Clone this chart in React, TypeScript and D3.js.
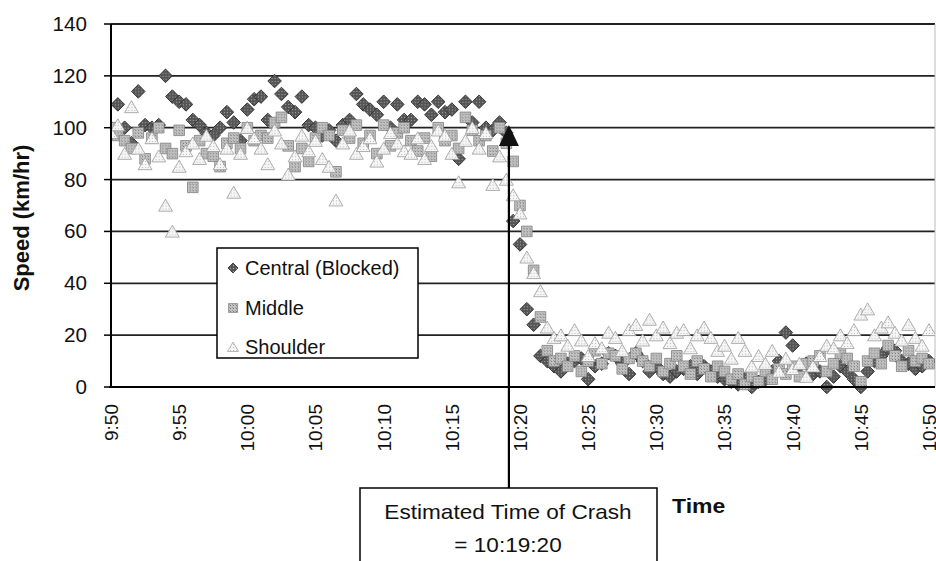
import React from "react";
import * as d3 from "d3";

// Sample times: minutes after 9:50, every 30 s
const sampleMinutes: number[] = d3.range(0, 60.5, 0.5);

const central: number[] = [
  100, 109, 100, 94, 114, 101, 100, 101, 120, 112, 110, 109, 103, 101, 98, 97, 100, 106, 102, 95,
  107, 111, 112, 103, 118, 113, 108, 106, 112, 101, 100, 97, 99, 95, 101, 103, 113, 109, 107, 105,
  110, 100, 109, 103, 103, 110, 109, 105, 110, 106, 107, 88, 110, 102, 110, 100, 99, 102, 98, 64,
  55, 30, 24, 12, 10, 8, 6, 9, 10, 11, 3, 8, 9, 13, 12, 9, 5, 13, 10, 6,
  8, 5, 4, 6, 7, 8, 5, 8, 6, 4, 3, 2, 1, 3, 0, 2, 3, 6, 10, 21,
  16, 8, 9, 5, 6, 0, 4, 8, 6, 3, 0, 6, 10, 12, 15, 14, 10, 9, 7, 8,
  10,
];

const middle: number[] = [
  100, 97, 95, 92, 98, 88, 96, 100, 92, 90, 99, 93, 77, 95, 90, 89, 85, 94, 96, 92,
  100, 95, 97, 96, 102, 104, 93, 85, 92, 87, 96, 100, 97, 83, 99, 96, 101, 94, 97, 90,
  101, 93, 98, 100, 95, 91, 96, 89, 100, 95, 97, 92, 104, 99, 95, 97, 91, 100, 94, 87,
  70, 60, 45, 27, 14, 10, 11, 8, 12, 6, 10, 14, 9, 13, 12, 7, 11, 13, 10, 8,
  11, 6, 9, 12, 8, 5, 10, 7, 4, 8, 6, 3, 5, 1, 4, 2, 6, 3, 7, 5,
  8, 4, 9, 10, 12, 6, 9, 13, 11, 8, 2, 10, 13, 9, 16, 12, 8, 14, 10, 11,
  9,
];

const shoulder: number[] = [
  98, 101, 90, 108, 92, 86, 96, 89, 70, 60, 85, 91, 94, 88, 97, 93, 86, 92, 75, 90,
  100, 96, 92, 86, 99, 94, 82, 89, 97, 91, 95, 88, 85, 72, 94, 99, 90, 93, 96, 87,
  92, 98, 94, 91, 90, 96, 88, 93, 99, 97, 90, 79, 95, 100, 92, 98, 78, 89, 80, 74,
  67, 50, 44, 37, 23, 19, 20, 16, 22, 18, 12, 17, 15, 21, 19, 14, 22, 24, 18, 26,
  20, 23, 17, 21, 22, 15, 20, 23, 19, 14, 16, 11, 19, 14, 8, 12, 9, 14, 6, 11,
  7, 9, 4, 8, 12, 16, 15, 20, 17, 22, 28, 30, 20, 23, 25, 21, 18, 24, 19, 16,
  22,
];

const xTickLabels: string[] = [
  "9:50", "9:55", "10:00", "10:05", "10:10", "10:15", "10:20",
  "10:25", "10:30", "10:35", "10:40", "10:45", "10:50",
];
const yTicks: number[] = [0, 20, 40, 60, 80, 100, 120, 140];
const crashMinute = 29 + 20 / 60; // 10:19:20

const FONT = "'Liberation Sans', Arial, sans-serif";

const diamondPath = (r: number) => `M0,${-r}L${r},0L0,${r}L${-r},0Z`;
const squarePath = (r: number) => `M${-r},${-r}H${r}V${r}H${-r}Z`;
const trianglePath = (r: number) => `M0,${-r}L${r * 1.1},${r * 0.9}L${-r * 1.1},${r * 0.9}Z`;

export default function App() {
  const W = 936;
  const H = 561;
  const plotLeft = 111;
  const plotRight = 935;
  const x = d3.scaleLinear().domain([0, 60]).range([111, 929]);
  const y = d3.scaleLinear().domain([0, 140]).range([387, 24]);

  const diamond = diamondPath(6.8);
  const square = squarePath(5.3);
  const triangle = trianglePath(6.3);

  const cx = x(crashMinute) - 2;

  return (
    <svg
      width={W}
      height={H}
      style={{ position: "absolute", left: 0, top: 0, background: "#fff" }}
      fontFamily={FONT}
    >
      <defs>
        <pattern id="patMid" width="3" height="3" patternUnits="userSpaceOnUse">
          <rect width="3" height="3" fill="#c4c4c4" />
          <rect width="1" height="1" fill="#6e6e6e" />
          <rect x="2" y="2" width="1" height="1" fill="#999" />
        </pattern>
        <pattern id="patCen" width="3" height="3" patternUnits="userSpaceOnUse">
          <rect width="3" height="3" fill="#555" />
          <rect width="1" height="1" fill="#aaa" />
        </pattern>
        <pattern id="patSh" width="3" height="3" patternUnits="userSpaceOnUse">
          <rect width="3" height="3" fill="#f6f6f6" />
          <rect width="1" height="1" fill="#bbb" />
        </pattern>
        <clipPath id="plotClip">
          <rect x={plotLeft} y={18} width={plotRight - plotLeft} height={376} />
        </clipPath>
      </defs>

      {/* gridlines */}
      {yTicks.filter((t) => t > 0).map((t) => (
        <line key={"g" + t} x1={plotLeft} x2={plotRight} y1={y(t)} y2={y(t)} stroke="#222" strokeWidth={1.8} />
      ))}
      <line x1={plotRight} x2={plotRight} y1={y(140)} y2={y(0)} stroke="#bbb" strokeWidth={1} />

      {/* data */}
      <g clipPath="url(#plotClip)">
        {central.map((v, i) => (
          <path key={"c" + i} d={diamond} transform={`translate(${x(sampleMinutes[i])},${y(v)})`}
            fill="url(#patCen)" stroke="#2a2a2a" strokeWidth={0.9} />
        ))}
        {middle.map((v, i) => (
          <path key={"m" + i} d={square} transform={`translate(${x(sampleMinutes[i])},${y(v)})`}
            fill="url(#patMid)" stroke="#808080" strokeWidth={0.8} />
        ))}
        {shoulder.map((v, i) => (
          <path key={"s" + i} d={triangle} transform={`translate(${x(sampleMinutes[i])},${y(v)})`}
            fill="url(#patSh)" stroke="#9a9a9a" strokeWidth={0.8} />
        ))}
      </g>

      {/* axes */}
      <line x1={plotLeft} x2={plotLeft} y1={y(140)} y2={y(0) + 1} stroke="#000" strokeWidth={2} />
      <line x1={plotLeft - 2} x2={plotRight} y1={y(0)} y2={y(0)} stroke="#000" strokeWidth={2} />
      {yTicks.map((t) => (
        <g key={"yt" + t}>
          <line x1={plotLeft - 7} x2={plotLeft} y1={y(t)} y2={y(t)} stroke="#000" strokeWidth={1.5} />
          <text transform={`translate(87,${y(t)}) scale(1.06,1)`} dy="0.36em" textAnchor="end"
            fontSize={19.5} fill="#111">{t}</text>
        </g>
      ))}
      {xTickLabels.map((lab, i) => (
        <text key={"xt" + i} transform={`translate(${x(i * 5)},404) rotate(-90)`} textAnchor="end"
          dy="0.36em" fontSize={19} fill="#111">{lab}</text>
      ))}

      <text transform="translate(21,218) rotate(-90)" textAnchor="middle" dy="0.36em"
        fontSize={22} fontWeight="bold" fill="#111">Speed (km/hr)</text>
      <text transform="translate(672,513) scale(1.15,1)" fontSize={20} fontWeight="bold" fill="#111">Time</text>

      {/* crash annotation */}
      <line x1={cx} x2={cx} y1={140} y2={488} stroke="#000" strokeWidth={2.2} />
      <path d={`M${cx},125 L${cx + 10},146 L${cx - 10},146 Z`} fill="#111" />
      <rect x={360} y={488} width={297} height={90} fill="#fff" stroke="#000" strokeWidth={1.5} />
      <text transform="translate(508,519) scale(1.13,1)" textAnchor="middle" fontSize={20} fill="#111">Estimated Time of Crash</text>
      <text transform="translate(508,552) scale(1.13,1)" textAnchor="middle" fontSize={20} fill="#111">= 10:19:20</text>

      {/* legend */}
      <rect x={217} y={248} width={201} height={110} fill="#fff" stroke="#000" strokeWidth={1.5} />
      <path d={diamondPath(5)} transform="translate(233,268)"
        fill="url(#patCen)" stroke="#2a2a2a" strokeWidth={0.8} />
      <text x={245} y={268} dy="0.36em" fontSize={20} fill="#111">Central (Blocked)</text>
      <path d={squarePath(4.5)} transform="translate(233,308)"
        fill="url(#patMid)" stroke="#808080" strokeWidth={0.7} />
      <text x={245} y={308} dy="0.36em" fontSize={20} fill="#111">Middle</text>
      <path d={trianglePath(5)} transform="translate(233,347)"
        fill="url(#patSh)" stroke="#9a9a9a" strokeWidth={0.7} />
      <text x={245} y={347} dy="0.36em" fontSize={20} fill="#111">Shoulder</text>
    </svg>
  );
}
